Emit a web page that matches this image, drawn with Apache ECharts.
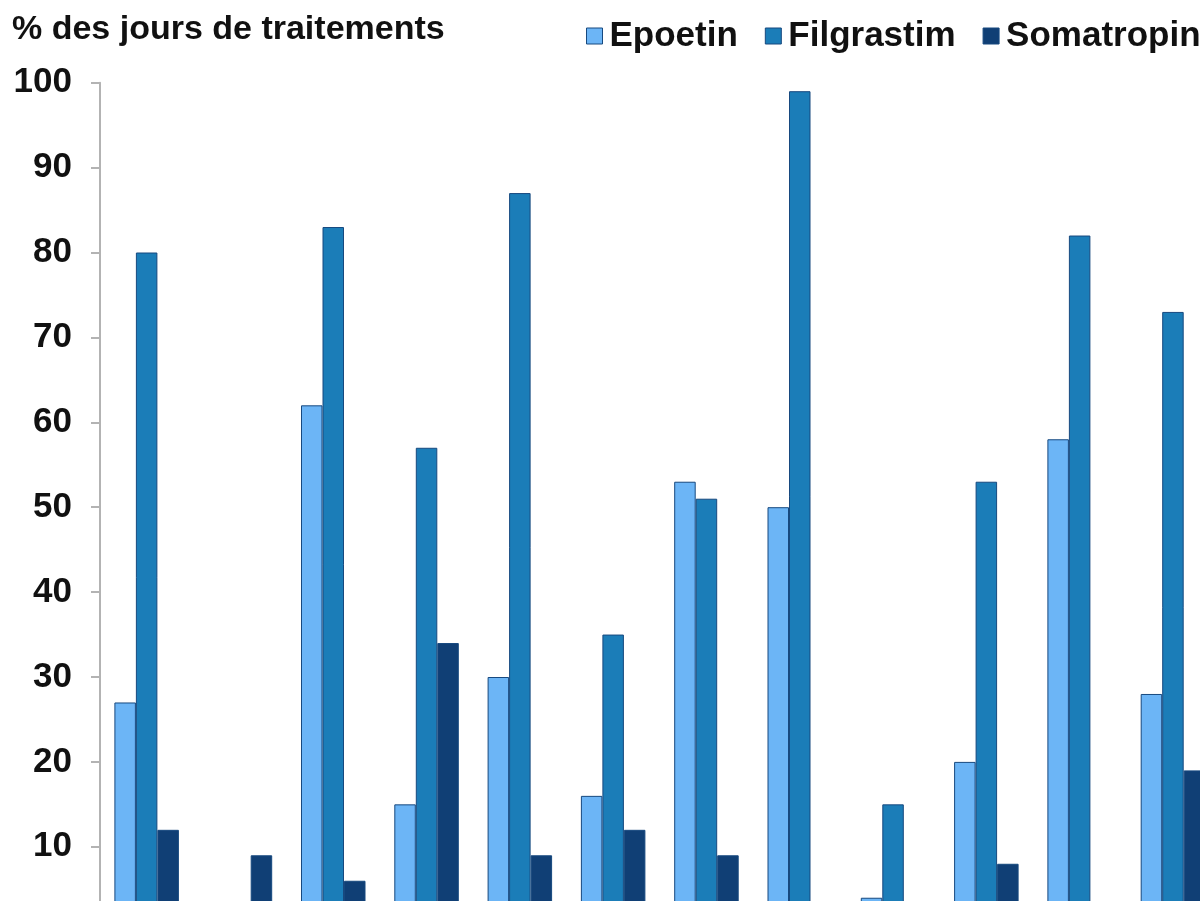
<!DOCTYPE html>
<html>
<head>
<meta charset="utf-8">
<script src="https://cdn.jsdelivr.net/npm/echarts@6/dist/echarts.min.js"></script>
<style>
  html, body { margin: 0; padding: 0; background: #fff; }
  #chart { width: 1200px; height: 901px; }
</style>
</head>
<body>
<div id="chart"></div>
<script>
// Groups along the horizontal axis (labels sit below the visible area)
const groups = ['G1', 'G2', 'G3', 'G4', 'G5', 'G6', 'G7', 'G8', 'G9', 'G10', 'G11', 'G12'];

// Share of treatment days (%) per product
const epoetin    = [27, null, 62, 15, 30, 16, 53, 50, 4, 20, 58, 28];
const filgrastim = [80, null, 83, 57, 87, 35, 51, 99, 15, 53, 82, 73];
const somatropin = [12, 9, 6, 34, 9, 12, 9, null, null, 8, null, 19];

const seriesNames = ['Epoetin', 'Filgrastim', 'Somatropin'];
const yTicks = { min: 0, max: 100, step: 10 };

const FONT = '"Liberation Sans", Arial, Helvetica, sans-serif';
const colors = ['#6cb5f6', '#1b7db8', '#103f75'];

const chart = echarts.init(document.getElementById('chart'), null, { renderer: 'canvas' });

const barStyle = (c) => ({
  color: c,
  borderColor: '#17497f',
  borderWidth: 1
});

chart.setOption({
  backgroundColor: '#ffffff',
  animation: false,
  color: colors,
  title: {
    text: '% des jours de traitements',
    left: 12,
    top: 12,
    padding: 0,
    textStyle: {
      fontFamily: FONT,
      fontSize: 34,
      fontWeight: 'bold',
      color: '#111',
      lineHeight: 36
    }
  },
  legend: {
    data: seriesNames,
    orient: 'horizontal',
    left: 586,
    top: 18,
    width: 700,
    padding: 0,
    itemWidth: 16,
    itemHeight: 16,
    itemGap: 27,
    icon: 'rect',
    itemStyle: { borderColor: '#17497f', borderWidth: 1 },
    textStyle: {
      fontFamily: FONT,
      fontSize: 35,
      fontWeight: 'bold',
      color: '#111',
      lineHeight: 36,
      padding: [0, 0, 0, 2]
    }
  },
  grid: {
    left: 100,
    top: 82.7,
    width: 1119.6,
    height: 849,
    containLabel: false,
    outerBoundsMode: 'none'
  },
  xAxis: {
    type: 'category',
    data: groups,
    axisLine: { show: true, lineStyle: { color: '#b3b3b3', width: 2 } },
    axisTick: { show: false },
    axisLabel: { show: false }
  },
  yAxis: {
    type: 'value',
    min: yTicks.min,
    max: yTicks.max,
    interval: yTicks.step,
    axisLine: { show: true, lineStyle: { color: '#b3b3b3', width: 2 } },
    axisTick: { show: true, length: 9, lineStyle: { color: '#b3b3b3', width: 2 } },
    splitLine: { show: false },
    axisLabel: {
      margin: 28,
      fontFamily: FONT,
      fontSize: 35,
      fontWeight: 'bold',
      color: '#111'
    }
  },
  series: [
    { name: seriesNames[0], type: 'bar', data: epoetin, barWidth: 21.5, barGap: '0%', itemStyle: barStyle(colors[0]) },
    { name: seriesNames[1], type: 'bar', data: filgrastim, barWidth: 21.5, barGap: '0%', itemStyle: barStyle(colors[1]) },
    { name: seriesNames[2], type: 'bar', data: somatropin, barWidth: 21.5, barGap: '0%', itemStyle: barStyle(colors[2]) }
  ]
});
</script>
</body>
</html>
